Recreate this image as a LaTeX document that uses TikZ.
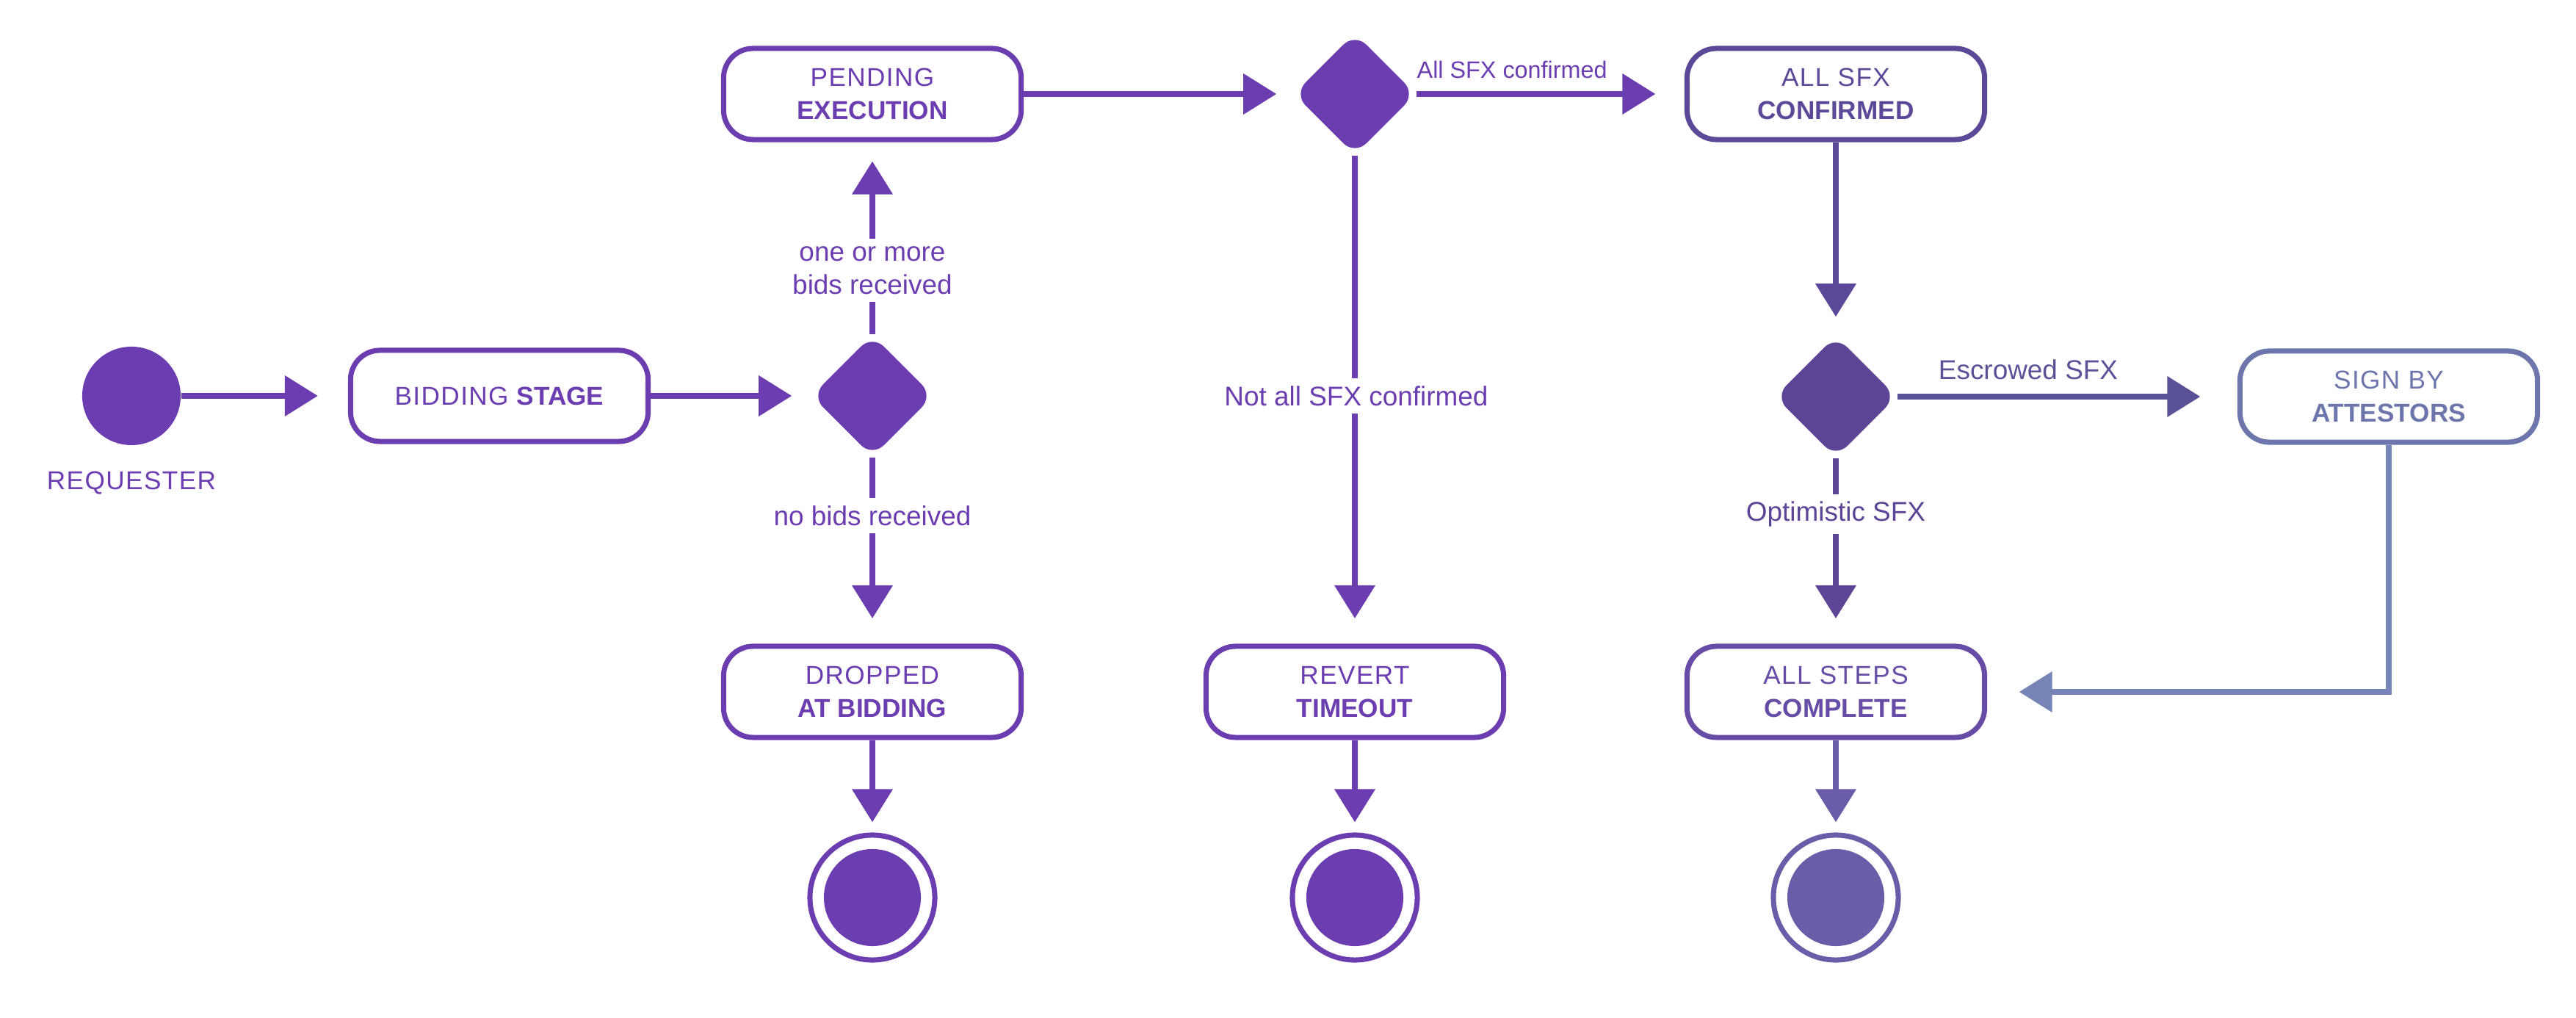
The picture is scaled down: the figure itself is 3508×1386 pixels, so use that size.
\documentclass[tikz,border=0pt]{standalone}
\usepackage{fontspec}
\setmainfont{Liberation Sans}
\newfontfamily\spaced{Liberation Sans}[LetterSpace=4]
\usetikzlibrary{arrows.meta,shapes.geometric}
\definecolor{pmain}{RGB}{108,61,177}
\definecolor{psfx}{RGB}{92,72,153}
\definecolor{pdthree}{RGB}{92,68,150}
\definecolor{pesc}{RGB}{90,82,152}
\definecolor{psign}{RGB}{108,118,172}
\definecolor{pback}{RGB}{118,132,184}
\definecolor{psteps}{RGB}{102,76,166}
\definecolor{pfin}{RGB}{106,92,168}
\tikzset{
  box/.style={draw=#1, text=#1, line width=2pt, rounded corners=0.4cm, minimum width=4.05cm,
    minimum height=1.24cm, fill=white, align=center, inner sep=0,
    font=\fontsize{10}{12.8}\selectfont},
  dec/.style={diamond, aspect=1, minimum width=1.66cm, minimum height=1.66cm,
    inner sep=0, rounded corners=0.22cm, fill=#1},
  conn/.style={draw=#1, line width=2.1pt, -{Triangle[length=0.45cm,width=0.54cm]}},
  lbl/.style={text=#1, font=\fontsize{10.5}{12.8}\selectfont, align=center, fill=white, inner sep=0.1cm},
  startdot/.style={circle, fill=#1, minimum size=1.34cm, inner sep=0},
  endring/.style={circle, draw=#1, line width=2pt, minimum size=1.70cm, inner sep=0},
  enddot/.style={circle, fill=#1, minimum size=1.32cm, inner sep=0},
}
\begin{document}
\begin{tikzpicture}[x=0.01cm, y=-0.01cm]
\useasboundingbox (0,0) rectangle (3508,1386);
% nodes
\node[startdot=pmain] (req) at (179,539) {};
\node[text=pmain, anchor=base, font=\fontsize{10}{12}\selectfont\spaced] (reqlbl) at (179,667) {REQUESTER};
\node[box=pmain] (bid) at (680,539) {{\spaced BIDDING} \textbf{STAGE}};
\node[dec=pmain] (d1) at (1188,539) {};
\node[box=pmain] (pend) at (1188,128) {{\spaced PENDING}\\\textbf{EXECUTION}};
\node[dec=pmain] (d2) at (1845,128) {};
\node[box=psfx] (sfx) at (2500,128) {{\spaced ALL SFX}\\\textbf{CONFIRMED}};
\node[dec=pdthree] (d3) at (2500,540) {};
\node[box=psign] (sign) at (3253,540) {{\spaced SIGN BY}\\\textbf{ATTESTORS}};
\node[box=pmain] (drop) at (1188,942) {{\spaced DROPPED}\\\textbf{AT BIDDING}};
\node[box=pmain] (rev) at (1845,942) {{\spaced REVERT}\\\textbf{TIMEOUT}};
\node[box=psteps] (steps) at (2500,942) {{\spaced ALL STEPS}\\\textbf{COMPLETE}};
\node[endring=pmain] (f1) at (1188,1222) {};
\node[enddot=pmain] (f1i) at (1188,1222) {};
\node[endring=pmain] (f2) at (1845,1222) {};
\node[enddot=pmain] (f2i) at (1845,1222) {};
\node[endring=pfin] (f3) at (2500,1222) {};
\node[enddot=pfin] (f3i) at (2500,1222) {};
% connectors
\draw[conn=pmain, shorten >=0.41cm] (req) -- (bid);
\draw[conn=pmain, shorten >=0.26cm] (bid) -- (d1);
\draw[conn=pmain, shorten >=0.26cm] (d1) -- (pend);
\draw[conn=pmain, shorten >=0.345cm] (d1) -- (drop);
\draw[conn=pmain, shorten >=0.23cm] (pend) -- (d2);
\draw[conn=pmain, shorten >=0.395cm] (d2) -- (sfx);
\draw[conn=pmain, shorten >=0.345cm] (d2) -- (rev);
\draw[conn=psfx, shorten >=0.25cm] (sfx) -- (d3);
\draw[conn=pesc, shorten >=0.505cm] (d3) -- (sign);
\draw[conn=pdthree, shorten >=0.345cm] (d3) -- (steps);
\draw[conn=pback, shorten >=0.435cm] (sign.south) |- (steps.east);
\draw[conn=pmain, shorten >=0.14cm] (drop) -- (f1);
\draw[conn=pmain, shorten >=0.14cm] (rev) -- (f2);
\draw[conn=pfin, shorten >=0.14cm] (steps) -- (f3);
% labels
\node[lbl=pmain] (l1) at (1188,368) {one or more\\bids received};
\node[lbl=pmain] (l2) at (1188,702) {no bids received};
\node[lbl=pmain] (l3) at (1847,539) {Not all SFX confirmed};
\node[lbl=pdthree] (l4) at (2500,700) {Optimistic SFX};
\node[text=pmain, anchor=base west, inner sep=0, font=\fontsize{9.2}{11}\selectfont] (l5) at (1929,107) {All SFX confirmed};
\node[text=pesc, anchor=base, inner sep=0, font=\fontsize{10.5}{12.8}\selectfont] (l6) at (2762,517) {Escrowed SFX};
\end{tikzpicture}
\end{document}
